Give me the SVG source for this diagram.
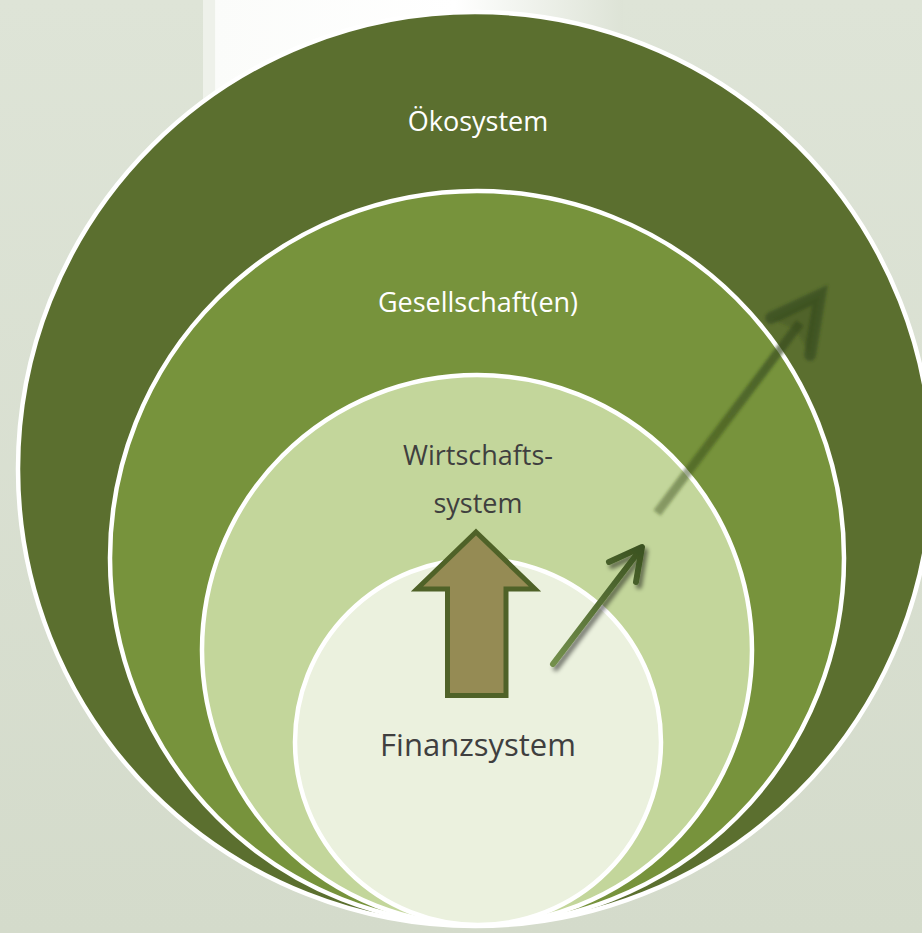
<svg xmlns="http://www.w3.org/2000/svg" width="922" height="933" viewBox="0 0 922 933">
<defs>
<style>
.ring{stroke:#ffffff;stroke-width:4.5}
.lbl{font-family:"Open Sans","DejaVu Sans",sans-serif;text-anchor:middle}
.light{fill:#ffffff}
.dark{fill:#3f3f3f}
</style>
<linearGradient id="bg" x1="0" y1="0" x2="0" y2="1">
<stop offset="0" stop-color="#dee4d7"/>
<stop offset="1" stop-color="#d4dbcb"/>
</linearGradient>
<linearGradient id="panel" x1="0" y1="0" x2="1" y2="0">
<stop offset="0" stop-color="#eef1ea"/>
<stop offset="0.028" stop-color="#eef1ea"/>
<stop offset="0.03" stop-color="#fbfcfa"/>
<stop offset="0.6" stop-color="#ffffff"/>
<stop offset="1" stop-color="#dde3d6"/>
</linearGradient>
<linearGradient id="smallGrad" gradientUnits="userSpaceOnUse" x1="553" y1="664" x2="642" y2="547">
<stop offset="0" stop-color="#738f4c"/>
<stop offset="1" stop-color="#3b5220"/>
</linearGradient>
<linearGradient id="bigGrad" gradientUnits="userSpaceOnUse" x1="657" y1="513" x2="822" y2="293">
<stop offset="0" stop-color="#34481a" stop-opacity="0.42"/>
<stop offset="1" stop-color="#34481a" stop-opacity="0.72"/>
</linearGradient>
<filter id="shadow" x="-30%" y="-30%" width="160%" height="160%">
<feGaussianBlur in="SourceAlpha" stdDeviation="2"/>
<feOffset dx="3" dy="4" result="b"/>
<feComponentTransfer><feFuncA type="linear" slope="0.5"/></feComponentTransfer>
<feMerge><feMergeNode/><feMergeNode in="SourceGraphic"/></feMerge>
</filter>
<filter id="soft" x="-20%" y="-20%" width="140%" height="140%">
<feGaussianBlur stdDeviation="1.8"/>
</filter>
</defs>
<rect x="0" y="0" width="922" height="933" fill="url(#bg)"/>
<rect x="203" y="0" width="420" height="130" fill="url(#panel)"/>
<g id="node-oekosystem">
<circle class="ring" cx="475" cy="469" r="457" fill="#5b6f2f"/>
<text class="lbl light" x="478" y="131" font-size="27">Ökosystem</text>
</g>
<g id="node-gesellschaft">
<circle class="ring" cx="477" cy="558" r="367" fill="#77933c"/>
<text class="lbl light" x="478" y="312" font-size="27">Gesellschaft(en)</text>
</g>
<g id="node-wirtschaft">
<circle class="ring" cx="477" cy="650" r="275" fill="#c3d69b"/>
<text class="lbl dark" x="478" y="465" font-size="27">Wirtschafts-</text>
<text class="lbl dark" x="478" y="513" font-size="27">system</text>
</g>
<g id="node-finanz">
<circle class="ring" cx="478" cy="742" r="183" fill="#ebf1de"/>
<text class="lbl dark" x="478" y="756" font-size="31">Finanzsystem</text>
</g>
<g id="connectors">
<path id="up-arrow" d="M476,532 L535,589 L506,589 L506,695.5 L447.5,695.5 L447.5,589 L417,589 Z" fill="#958b54" stroke="#4f6228" stroke-width="5" stroke-linejoin="miter"/>
<g id="small-arrow" filter="url(#shadow)" fill="none" stroke="url(#smallGrad)" stroke-width="6" stroke-linecap="round" stroke-linejoin="round">
<line x1="553" y1="664" x2="640" y2="550"/>
<polyline points="609,562 642,547 636,582"/>
</g>
<g id="big-arrow" filter="url(#soft)">
<line x1="657" y1="513" x2="800" y2="323" stroke="url(#bigGrad)" stroke-width="9"/>
<polygon points="772,319 820,295 810,355 796,330" fill="#34481a" fill-opacity="0.3"/>
<polyline points="771,318 820,295 810,355" fill="none" stroke="#34481a" stroke-opacity="0.62" stroke-width="12" stroke-linecap="round" stroke-linejoin="miter"/>
</g>
</g>
</svg>
